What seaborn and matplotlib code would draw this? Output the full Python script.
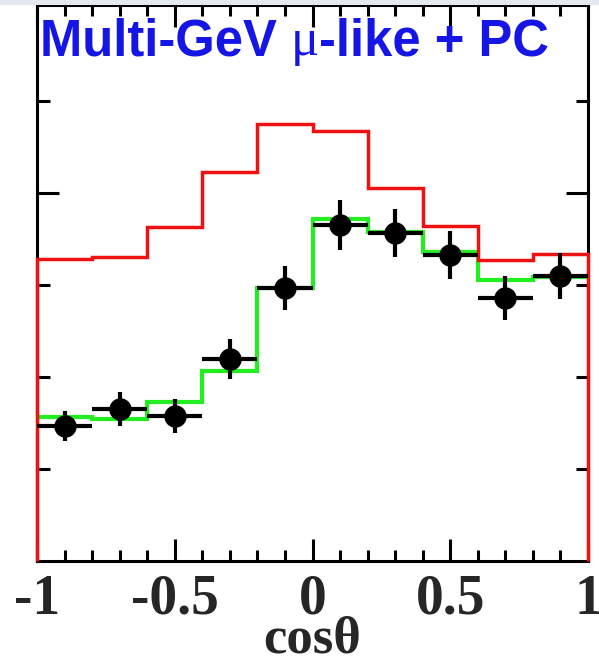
import numpy as np
import pandas as pd
import seaborn as sns
import matplotlib
matplotlib.use("Agg")
import matplotlib.pyplot as plt
from matplotlib.patches import Rectangle
from matplotlib.ticker import MultipleLocator, FixedLocator, NullFormatter

# cos(theta) binning, 10 bins
bin_edges = [-1.0, -0.8, -0.6, -0.4, -0.2, 0.0, 0.2, 0.4, 0.6, 0.8, 1.0]
bin_centers = [-0.9, -0.7, -0.5, -0.3, -0.1, 0.1, 0.3, 0.5, 0.7, 0.9]

# no-oscillation expectation (red) and best-fit oscillation (green)
no_osc = [164.0, 165.1, 181.4, 211.3, 237.4, 233.6, 202.6, 182.0, 163.5, 166.8]
best_fit = [78.2, 77.1, 86.4, 103.2, 148.3, 185.8, 178.7, 167.8, 152.6, 154.3]

# data points with statistical errors
data_counts = [73.3, 82.6, 78.8, 109.7, 148.3, 182.5, 178.2, 166.2, 142.9, 154.8]
data_errors = [8.2, 9.2, 9.2, 10.9, 12.0, 13.5, 13.0, 13.0, 12.0, 12.5]

xtick_values = [-1, -0.5, 0, 0.5, 1]
xtick_labels = ["-1", "-0.5", "0", "0.5", "1"]

sns.set_theme(style="ticks")
plt.rcParams["font.family"] = ["Liberation Serif", "DejaVu Serif"]

df = pd.DataFrame({"cos": bin_centers, "n": data_counts, "err": data_errors})

fig = plt.figure(figsize=(5.99, 6.67), dpi=100)
fig.patches.append(Rectangle((0, 1 - 5 / 667), 1, 5 / 667, transform=fig.transFigure,
                             facecolor="#e4e9f1", edgecolor="none", zorder=0))
ax = fig.add_axes([37 / 599, 1 - 561 / 667, 551 / 599, 556 / 667])

ax.stairs(no_osc, bin_edges, baseline=0, color="#ee1111", linewidth=2.5,
          zorder=4, clip_on=False)
ax.stairs(best_fit, bin_edges, baseline=None, color="#22ee22", linewidth=3.0,
          zorder=3)

ax.errorbar(df["cos"], df["n"], xerr=0.1, yerr=df["err"], fmt="none",
            ecolor="black", elinewidth=3.0, capsize=0, zorder=5)
sns.scatterplot(data=df, x="cos", y="n", color="black", s=260,
                edgecolor="black", linewidth=0, zorder=6, ax=ax, legend=False)

ax.set_xlim(-1, 1)
ax.set_ylim(0, 302)

ax.xaxis.set_major_locator(FixedLocator(xtick_values))
ax.set_xticklabels(xtick_labels)
ax.xaxis.set_minor_locator(MultipleLocator(0.1))
ax.yaxis.set_major_locator(FixedLocator([200]))
ax.yaxis.set_minor_locator(FixedLocator([50, 100, 150, 250]))
ax.yaxis.set_major_formatter(NullFormatter())

ax.tick_params(axis="both", which="both", direction="in", top=True, right=True,
               color="black", width=2.2)
ax.tick_params(axis="x", which="major", length=16, pad=9, labelsize=40)
ax.tick_params(axis="x", which="minor", length=8)
ax.tick_params(axis="y", which="major", length=16)
ax.tick_params(axis="y", which="minor", length=9)
for lab in ax.get_xticklabels():
    lab.set_fontweight("bold")

for side in ["left", "right", "top", "bottom"]:
    ax.spines[side].set_linewidth(2.2)
    ax.spines[side].set_color("black")

ax.set_xlabel("cosθ", fontsize=38, fontweight="bold", labelpad=-7)
ax.set_ylabel("")

t1 = ax.text(0.005, 0.91, "Multi-GeV ", transform=ax.transAxes, fontsize=36.5,
             fontweight="bold", color="#1515e6",
             family=["Liberation Sans", "DejaVu Sans"], va="baseline")
t2 = ax.annotate("μ", xy=(1, 0), xycoords=t1, fontsize=38, color="#1515e6",
                 family=["Liberation Serif", "DejaVu Serif"], va="bottom")
t3 = ax.annotate("-like + PC", xy=(1, 0), xycoords=t2, xytext=(0, 0),
                 textcoords="offset points", fontsize=36.5, fontweight="bold",
                 color="#1515e6", family=["Liberation Sans", "DejaVu Sans"],
                 va="bottom")

fig.savefig("out.png", dpi=100)
